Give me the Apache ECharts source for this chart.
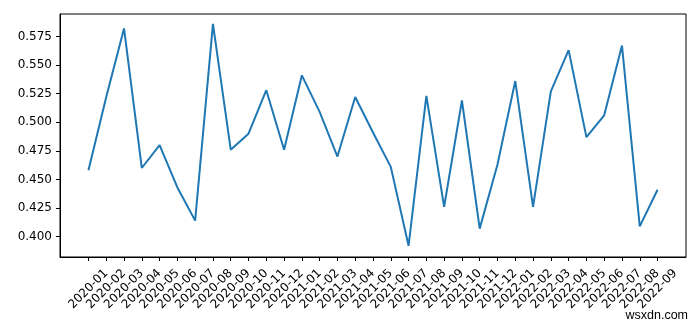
<!DOCTYPE html>
<html>
<head>
<meta charset="utf-8">
<script src="https://cdn.jsdelivr.net/npm/echarts@6/dist/echarts.min.js"></script>
<style>
html,body{margin:0;padding:0;background:#fff;}
#chart{width:700px;height:327px;}
</style>
</head>
<body>
<div id="chart"></div>
<script>
const categories = ['2020-01','2020-02','2020-03','2020-04','2020-05','2020-06','2020-07','2020-08','2020-09','2020-10','2020-11','2020-12',
  '2021-01','2021-02','2021-03','2021-04','2021-05','2021-06','2021-07','2021-08','2021-09','2021-10','2021-11','2021-12',
  '2022-01','2022-02','2022-03','2022-04','2022-05','2022-06','2022-07','2022-08','2022-09'];
const values = [0.458, 0.522, 0.582, 0.460, 0.480, 0.443, 0.414, 0.586, 0.476, 0.490, 0.528, 0.476,
  0.541, 0.509, 0.470, 0.522, 0.491, 0.461, 0.392, 0.523, 0.426, 0.519, 0.407, 0.463,
  0.536, 0.426, 0.527, 0.563, 0.487, 0.506, 0.567, 0.409, 0.441];
const yTicks = [0.400, 0.425, 0.450, 0.475, 0.500, 0.525, 0.550, 0.575];

const xTickIdx = categories.map((c, i) => i);
const chart = echarts.init(document.getElementById('chart'), null, {renderer: 'canvas'});
chart.setOption({
  animation: false,
  backgroundColor: '#ffffff',
  grid: {left: 60, right: 14, top: 14, bottom: 70, show: true, borderColor: '#000', borderWidth: 1, containLabel: false},
  xAxis: {
    type: 'value',
    min: -1.6, max: 33.6,
    splitLine: {show: false},
    axisLine: {show: true, onZero: false, lineStyle: {color: '#000', width: 1}},
    axisTick: {show: true, length: 4, inside: false, customValues: xTickIdx, lineStyle: {color: '#000', width: 1}},
    axisLabel: {
      customValues: xTickIdx,
      formatter: v => categories[Math.round(v)] || '',
      rotate: 45, align: 'center', verticalAlign: 'middle', margin: 32,
      color: '#000', fontFamily: 'DejaVu Sans', fontSize: 12
    }
  },
  yAxis: {
    type: 'value',
    min: 0.3822, max: 0.5946,
    splitLine: {show: false},
    axisLine: {show: true, onZero: false, lineStyle: {color: '#000', width: 1}},
    axisTick: {show: true, length: 4, customValues: yTicks, lineStyle: {color: '#000', width: 1}},
    axisLabel: {
      customValues: yTicks,
      formatter: v => v.toFixed(3),
      margin: 8, color: '#000', fontFamily: 'DejaVu Sans', fontSize: 12
    }
  },
  series: [{
    type: 'line',
    data: values.map((v, i) => [i, v]),
    showSymbol: false,
    lineStyle: {color: '#1f77b4', width: 2},
    itemStyle: {color: '#1f77b4'}
  }],
  graphic: [{
    type: 'text', right: 12, top: 309,
    style: {text: 'wsxdn.com', fill: '#000', font: '12.5px "Liberation Sans", Arial, sans-serif'}
  }]
});
</script>
</body>
</html>
